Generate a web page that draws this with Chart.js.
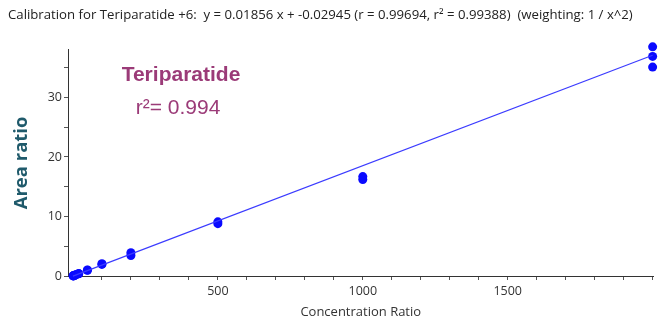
<!DOCTYPE html>
<html lang="en">
<head>
<meta charset="UTF-8">
<title>Calibration for Teriparatide</title>
<script src="https://cdn.jsdelivr.net/npm/chart.js"></script>
<style>
    body { margin: 0; background: #fff; }
    #wrap { width: 658px; height: 320px; position: relative; }
</style>
</head>
<body>
<div id="wrap"><canvas id="chartContainer"></canvas></div>
<script>
// measured calibration points (concentration ratio / area ratio)
const concentration = [1, 1, 2, 2, 5, 5, 10, 10, 20, 20, 50, 50, 100, 100, 200, 200, 500, 500, 1000, 1000, 2000, 2000, 2000];
const areaRatio = [0.02, 0.03, 0.04, 0.05, 0.09, 0.1, 0.19, 0.2, 0.38, 0.4, 0.95, 1.0, 1.95, 2.05, 3.45, 3.9, 8.8, 9.1, 16.2, 16.7, 35.1, 36.9, 38.5];

// fitted line end points
const fitX = [0, 2000];
const fitY = [-0.03, 37.09];

// axis ticks
const xMajorTicks = [500, 1000, 1500];
const xMinorTicks = [0, 100, 200, 300, 400, 500, 600, 700, 800, 900, 1000, 1100, 1200, 1300, 1400, 1500, 1600, 1700, 1800, 1900, 2000];
const yMajorTicks = [0, 10, 20, 30];
const yMinorTicks = [0, 5, 10, 15, 20, 25, 30, 35];

const headerText = 'Calibration for Teriparatide +6:  y = 0.01856 x + -0.02945 (r = 0.99694, r\u00B2 = 0.99388)  (weighting: 1 / x^2)';
const noteTitle = 'Teriparatide';
const noteR2 = 'r\u00B2= 0.994';

const pointData = concentration.map((c, i) => ({x: c, y: areaRatio[i]}));
const lineData = fitX.map((c, i) => ({x: c, y: fitY[i]}));

const notePlugin = {
    id: 'note',
    afterDatasetsDraw(chart) {
        const ctx = chart.ctx;
        ctx.save();
        ctx.fillStyle = '#9b3b78';
        ctx.textAlign = 'center';
        ctx.textBaseline = 'middle';
        ctx.font = 'bold 21px "Liberation Sans", Arial, sans-serif';
        ctx.fillText(noteTitle, 181, 75);
        ctx.font = '21px "Liberation Sans", Arial, sans-serif';
        ctx.fillText(noteR2, 178, 108);
        ctx.restore();
    }
};

const tickFont = {family: '"Open Sans", sans-serif', size: 12.5};

new Chart(document.getElementById('chartContainer'), {
    type: 'scatter',
    data: {
        datasets: [{
            label: 'Fit',
            data: lineData,
            showLine: true,
            borderColor: '#3b3bff',
            borderWidth: 1.2,
            pointRadius: 0,
            clip: false
        }, {
            label: 'Teriparatide',
            data: pointData,
            backgroundColor: '#0a0aff',
            borderWidth: 0,
            pointRadius: 4.5,
            clip: false
        }]
    },
    options: {
        responsive: true,
        maintainAspectRatio: false,
        animation: false,
        layout: { padding: {left: 8, right: 0, top: 0, bottom: 0} },
        plugins: {
            legend: { display: false },
            tooltip: { enabled: false },
            title: {
                display: true,
                text: headerText,
                align: 'start',
                color: '#222',
                font: {family: '"Open Sans", sans-serif', size: 13.2, weight: 'normal'},
                padding: {top: 7, bottom: 27}
            }
        },
        scales: {
            x: {
                type: 'linear',
                min: -17,
                max: 2003,
                afterBuildTicks: scale => { scale.ticks = xMinorTicks.map(v => ({value: v})); },
                afterFit: scale => { scale.height = 44; },
                ticks: {
                    autoSkip: false,
                    maxRotation: 0,
                    padding: 4,
                    color: '#333',
                    font: tickFont,
                    callback: v => xMajorTicks.includes(v) ? String(v) : ''
                },
                grid: { drawOnChartArea: false, tickLength: 4, color: '#555' },
                border: { color: '#333', width: 1 },
                title: {
                    display: true,
                    text: 'Concentration Ratio',
                    color: '#333',
                    font: {family: '"Open Sans", sans-serif', size: 13},
                    padding: {top: 0, bottom: 0}
                }
            },
            y: {
                min: 0,
                max: 38,
                afterBuildTicks: scale => { scale.ticks = yMinorTicks.map(v => ({value: v})); },
                afterFit: scale => { scale.width = 60; },
                ticks: {
                    autoSkip: false,
                    padding: 2,
                    color: '#333',
                    font: tickFont,
                    callback: v => yMajorTicks.includes(v) ? String(v) : ''
                },
                grid: { drawOnChartArea: false, tickLength: 4, color: '#555' },
                border: { color: '#333', width: 1 },
                title: {
                    display: true,
                    text: 'Area ratio',
                    color: '#1f5a6b',
                    font: {family: '"Open Sans", sans-serif', size: 18.5, weight: 'bold'},
                    padding: {top: 3, bottom: 0}
                }
            }
        }
    },
    plugins: [notePlugin]
});
</script>
</body>
</html>
